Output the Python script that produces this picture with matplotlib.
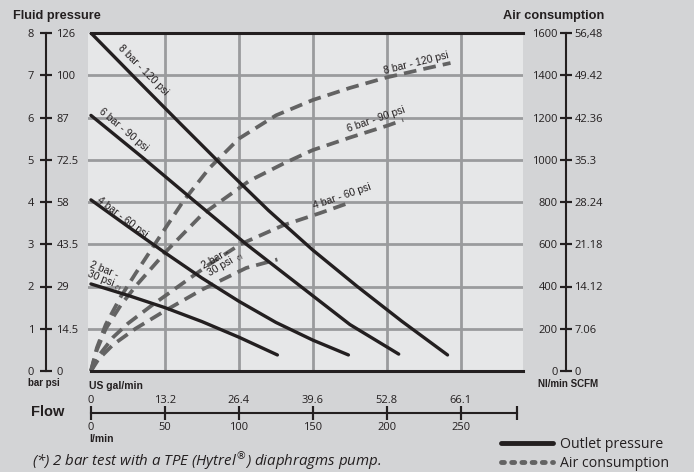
import matplotlib.pyplot as plt
from matplotlib.lines import Line2D

# ---------------------------------------------------------------------------
# Data (flow in l/min)
# ---------------------------------------------------------------------------
# outlet pressure, bar
p8_flow = [0, 30, 60, 90, 120, 150, 180, 210, 241]
p8_bar = [8, 6.93, 5.87, 4.82, 3.8, 2.86, 2.0, 1.18, 0.38]
p6_flow = [0, 35, 70, 105, 140, 175, 208]
p6_bar = [6.05, 5.05, 4.02, 3.0, 2.05, 1.1, 0.4]
p4_flow = [0, 25, 50, 75, 100, 125, 150, 174]
p4_bar = [4.05, 3.42, 2.8, 2.2, 1.65, 1.15, 0.73, 0.38]
p2_flow = [0, 25, 50, 75, 100, 126]
p2_bar = [2.06, 1.79, 1.50, 1.17, 0.80, 0.38]

# air consumption, Nl/min
a8_flow = [0, 4, 10, 20, 30, 45, 62, 80, 100, 125, 150, 175, 200, 225, 243]
a8_air = [0, 110, 220, 350, 460, 620, 800, 960, 1100, 1210, 1283, 1340, 1390, 1430, 1458]
a6_flow = [0, 4, 10, 20, 30, 52, 75, 107, 131, 150, 175, 201, 211]
a6_air = [0, 100, 200, 310, 400, 575, 740, 900, 985, 1046, 1105, 1163, 1188]
a4_flow = [0, 5, 15, 25, 41, 57, 80, 101, 130, 155, 174]
a4_air = [0, 70, 160, 225, 310, 390, 505, 600, 690, 748, 795]
a2_flow = [0, 5, 15, 30, 50, 75, 105, 126]
a2_air = [0, 55, 125, 200, 285, 385, 488, 528]

bar_ticks = [0, 1, 2, 3, 4, 5, 6, 7, 8]
psi_labels = ['0', '14.5', '29', '43.5', '58', '72.5', '87', '100', '126']
nl_ticks = [0, 200, 400, 600, 800, 1000, 1200, 1400, 1600]
scfm_labels = ['0', '7.06', '14.12', '21.18', '28.24', '35.3', '42.36', '49.42', '56,48']
lmin_ticks = [0, 50, 100, 150, 200, 250]
gal_labels = ['0', '13.2', '26.4', '39.6', '52.8', '66.1']

BG = '#d3d4d6'
PANEL = '#e6e7e8'
GRID = '#9a9b9d'
INK = '#231f20'
DASH = '#636363'

plt.rcParams['font.family'] = ['Open Sans', 'DejaVu Sans']
plt.rcParams['text.color'] = INK

W, H = 694, 472
fig = plt.figure(figsize=(W / 100, H / 100), dpi=100, facecolor=BG)


def fx(px):
    return px / W


def fy(py):
    return 1 - py / H


left, right, top, bottom = 88, 523, 33, 371
XLIM = (-2, 292)

#-----------------------------------------------------------------------------
# main panel
#-----------------------------------------------------------------------------
ax = fig.add_axes([fx(left), fy(bottom), (right - left) / W, (bottom - top) / H])
ax.set_facecolor(PANEL)
ax.set_xlim(*XLIM)
ax.set_ylim(0, 8)
ax.set_xticks([])
ax.set_yticks([])
for s in ['left', 'right']:
    ax.spines[s].set_visible(False)
for s in ['top', 'bottom']:
    ax.spines[s].set_linewidth(2.2)
    ax.spines[s].set_color(INK)
    ax.spines[s].set_bounds(0, XLIM[1])
for v in lmin_ticks[1:]:
    ax.axvline(v, color=GRID, lw=2, zorder=1)
for h in bar_ticks[1:-1]:
    ax.axhline(h, color=GRID, lw=2, zorder=1)

dash_style = (0, (3.4, 1.9))
for f, a in [(a8_flow, a8_air), (a6_flow, a6_air), (a4_flow, a4_air), (a2_flow, a2_air)]:
    ax.plot(f, [v / 200 for v in a], color=DASH, lw=2.7, linestyle=dash_style,
            dash_capstyle='butt', zorder=2)
for f, p in [(p8_flow, p8_bar), (p6_flow, p6_bar), (p4_flow, p4_bar), (p2_flow, p2_bar)]:
    ax.plot(f, p, color=INK, lw=2.4, solid_capstyle='round', solid_joinstyle='round',
            zorder=3)

lab = dict(fontsize=7.5, family=['Liberation Sans'], ha='center', va='center',
           rotation_mode='anchor', zorder=4)
ax.text(35, 7.12, '8 bar - 120 psi', rotation=-45, **lab)
ax.text(22, 5.70, '6 bar - 90 psi', rotation=-40, **lab)
ax.text(21, 3.65, '4 bar - 60 psi', rotation=-37, **lab)
ax.text(8, 2.30, '2 bar -\n30 psi', rotation=-22, linespacing=0.9, **lab)
ax.text(18, 1.97, '(*)', rotation=-22, **{**lab, 'fontsize': 4.5})
ax.text(220, 7.29, '8 bar - 120 psi', rotation=14, **lab)
ax.text(193, 5.96, '6 bar - 90 psi', rotation=19, **lab)
ax.text(170, 4.14, '4 bar - 60 psi', rotation=19, **lab)
ax.text(86, 2.56, '2 bar -\n30 psi', rotation=30, linespacing=0.9, **lab)
ax.text(101, 2.70, '(*)', rotation=30, **{**lab, 'fontsize': 4.5})


#-----------------------------------------------------------------------------
# double scales left and right
#-----------------------------------------------------------------------------
def scale_axis(xpx, ymax, ticks, left_labels, right_labels, lpad, rpad):
    a = fig.add_axes([fx(xpx), fy(bottom), 1e-5, (bottom - top) / H])
    a.patch.set_visible(False)
    a.set_ylim(0, ymax)
    a.set_xticks([])
    for s in ['top', 'bottom', 'right']:
        a.spines[s].set_visible(False)
    a.spines['left'].set_linewidth(1.5)
    a.spines['left'].set_color(INK)
    a.set_yticks(ticks, left_labels)
    a.tick_params(axis='y', direction='inout', length=8, width=1.5, pad=lpad,
                  labelsize=8, color=INK, labelcolor=INK)
    b = a.twinx()
    b.patch.set_visible(False)
    b.set_ylim(0, ymax)
    for s in ['top', 'bottom', 'left', 'right']:
        b.spines[s].set_visible(False)
    b.set_yticks(ticks, right_labels)
    b.tick_params(axis='y', direction='inout', length=8, width=1.5, pad=rpad,
                  labelsize=8, color=INK, labelcolor=INK)
    return a, b


scale_axis(46, 8, bar_ticks, [str(v) for v in bar_ticks], psi_labels, 4.5, 3.5)
scale_axis(566, 1600, nl_ticks, [str(v) for v in nl_ticks], scfm_labels, 2.0, 2.0)

#-----------------------------------------------------------------------------
# flow scale below the panel
#-----------------------------------------------------------------------------
fa = fig.add_axes([fx(left), fy(413), (right - left) / W, 1e-5])
fa.patch.set_visible(False)
fa.set_xlim(*XLIM)
fa.set_yticks([])
for s in ['top', 'left', 'right']:
    fa.spines[s].set_visible(False)
fa.spines['bottom'].set_linewidth(1.5)
fa.spines['bottom'].set_color(INK)
fa.spines['bottom'].set_bounds(0, 288)
fa.set_xticks(lmin_ticks + [288], [str(v) for v in lmin_ticks] + [''])
fa.tick_params(axis='x', direction='inout', length=10, width=1.5, pad=1.5,
               labelsize=8, color=INK, labelcolor=INK)
fb = fa.twiny()
fb.patch.set_visible(False)
fb.set_xlim(*XLIM)
for s in ['top', 'bottom', 'left', 'right']:
    fb.spines[s].set_visible(False)
fb.set_xticks(lmin_ticks + [288], gal_labels + [''])
fb.tick_params(axis='x', direction='inout', length=10, width=1.5, pad=0.3,
               labelsize=8, color=INK, labelcolor=INK)

#-----------------------------------------------------------------------------
# headings and notes
#-----------------------------------------------------------------------------
bold = dict(family=['Liberation Sans'], weight='bold', color=INK)
fig.text(fx(13), fy(19), 'Fluid pressure', fontsize=9.2, va='baseline', **bold)
fig.text(fx(503), fy(19), 'Air consumption', fontsize=9.2, va='baseline', **bold)
fig.text(fx(28), fy(383), 'bar psi', fontsize=7, va='center', **bold)
fig.text(fx(89), fy(386), 'US gal/min', fontsize=7.5, va='center', **bold)
fig.text(fx(31), fy(412), 'Flow', fontsize=10.5, va='center', **bold)
fig.text(fx(89), fy(439), 'l/min', fontsize=7.5, va='center', **bold)
fig.text(fx(538), fy(384), 'Nl/min SCFM', fontsize=7, va='center', **bold)
fig.text(fx(32), fy(460), '(*) 2 bar test with a TPE (Hytrel$^{®}$) diaphragms pump.',
         fontsize=10.8, style='italic', va='center', color=INK)

handles = [
    Line2D([], [], color=INK, lw=3.5, solid_capstyle='round'),
    Line2D([], [], color=DASH, lw=3.5, linestyle=(0, (0.6, 1.5)), dash_capstyle='round'),
]
fig.legend(handles, ['Outlet pressure', 'Air consumption'], loc='upper left',
           bbox_to_anchor=(fx(501), fy(437)), frameon=False, fontsize=10.2,
           handlelength=3.7, handletextpad=0.5, labelspacing=0.25,
           borderpad=0, borderaxespad=0)

fig.savefig('out.png', dpi=100, facecolor=BG)
